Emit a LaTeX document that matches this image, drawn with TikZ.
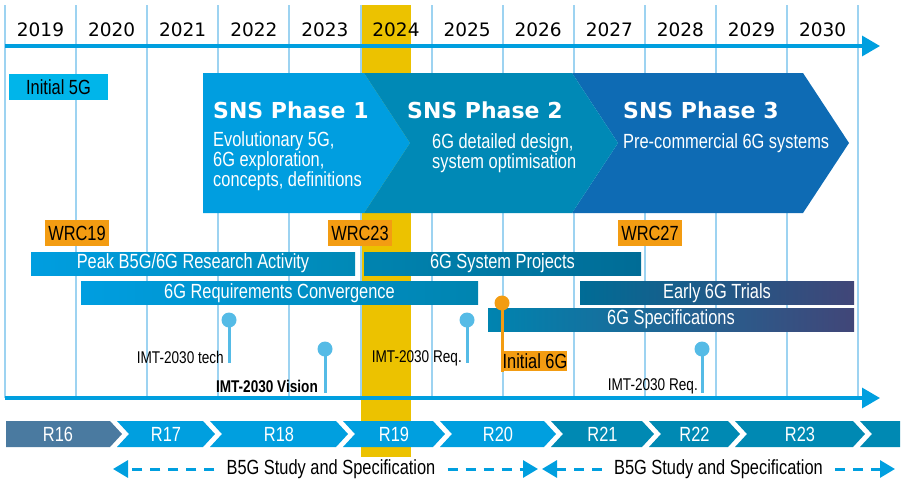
\documentclass[tikz,border=0pt]{standalone}
\usepackage{fontspec}
\setmainfont{DejaVu Sans}
\newfontfamily\condfont[FakeStretch=0.8]{Liberation Sans}
\usepackage{xcolor}
\usetikzlibrary{arrows.meta,calc,positioning}
\definecolor{axisblue}{RGB}{0,159,223}
\definecolor{gridblue}{RGB}{157,211,241}
\definecolor{hiyellow}{RGB}{236,194,0}
\definecolor{phaseA}{RGB}{0,158,224}
\definecolor{phaseB}{RGB}{0,137,182}
\definecolor{phaseC}{RGB}{14,107,180}
\definecolor{wrcorange}{RGB}{243,156,18}
\definecolor{cyanbox}{RGB}{0,181,234}
\definecolor{pinblue}{RGB}{85,187,230}
\definecolor{slate}{RGB}{74,122,160}
\definecolor{relblue}{RGB}{0,159,223}
\definecolor{relteal}{RGB}{0,137,179}
\definecolor{barmid}{RGB}{0,132,176}
\definecolor{bardark}{RGB}{0,108,150}
\definecolor{barpurple}{RGB}{65,70,120}

\tikzset{
  lbl/.style={font=\condfont\fontsize{20.5}{20}\selectfont, inner sep=0pt},
  smalllbl/.style={font=\condfont\fontsize{17}{17}\selectfont, inner sep=0pt},
  yearlbl/.style={font=\fontsize{18.5}{18}\selectfont, inner sep=0pt},
  headlbl/.style={font=\bfseries\fontsize{22}{22}\selectfont, text=white, inner sep=0pt},
  desclbl/.style={lbl, text=white, align=left},
  barbox/.style={lbl, text=white, minimum height=23pt},
  tagbox/.style={lbl, fill=wrcorange, minimum width=64pt, minimum height=26pt},
  pindot/.style={circle, fill=pinblue, minimum size=15pt, inner sep=0pt},
  stem/.style={line width=3pt, pinblue},
  gridline/.style={gridblue, line width=2pt},
  axisline/.style={axisblue, line width=3.3pt, -{Triangle[length=18pt,width=20pt]}},
  dasharrow/.style={axisblue, line width=3pt, dash pattern=on 10pt off 8pt,
    -{Triangle[length=15pt,width=17pt]}},
}

\begin{document}
\begin{tikzpicture}[x=1pt, y=-1pt]
\useasboundingbox (0,0) rectangle (901,482);
\def\gx{71.1}
\def\reltop{421}
\def\relbot{447}
\def\relmid{434}

\fill[hiyellow] (361,5) rectangle (411,457);
\foreach \i in {0,...,12}
  \draw[gridline] ({5+\gx*\i},5) -- ({5+\gx*\i},398);
\foreach \yr [count=\i from 0] in {2019,...,2030}
  \node[yearlbl] (y\yr) at ({40.5+\gx*\i},30) {\yr};
\draw[axisline] (5,46) -- (880,46);
\draw[axisline] (5,398) -- (880,398);

\node[lbl, fill=cyanbox, minimum width=99pt, minimum height=26pt] (init5g) at (58.5,87) {Initial 5G};

\fill[phaseC] (572,73) -- (803,73) -- (849,143) -- (803,213) -- (572,213) -- (618,143) -- cycle;
\fill[phaseB] (364,73) -- (572,73) -- (618,143) -- (572,213) -- (364,213) -- (410,143) -- cycle;
\fill[phaseA] (203,73) -- (364,73) -- (410,143) -- (364,213) -- (203,213) -- cycle;
\node[headlbl, anchor=base west] (ph1) at (213,118) {SNS Phase 1};
\node[headlbl, anchor=base west] (ph2) at (407,118) {SNS Phase 2};
\node[headlbl, anchor=base west] (ph3) at (623,118) {SNS Phase 3};
\node[desclbl, anchor=north west] (ph1txt) at (213,131)
  {Evolutionary 5G,\\6G exploration,\\concepts, definitions};
\node[desclbl, anchor=north west] (ph2txt) at (432,133)
  {6G detailed design,\\system optimisation};
\node[desclbl, anchor=north west] (ph3txt) at (623,133) {Pre-commercial 6G systems};

\node[tagbox] (wrc19) at (77,233) {WRC19};
\node[tagbox] (wrc23) at (360,233) {WRC23};
\node[tagbox] (wrc27) at (650,233) {WRC27};

\node[barbox, minimum width=324pt, left color=phaseA, right color=phaseB] (peak) at (193,263.5)
  {Peak B5G/6G Research Activity};
\node[barbox, minimum width=277pt, left color=barmid, right color=bardark] (sysproj) at (502.5,263.5)
  {6G System Projects};
\node[barbox, minimum width=397pt, left color=phaseA, right color=barmid] (reqconv) at (279.5,293)
  {6G Requirements Convergence};
\node[barbox, minimum width=274pt, left color=bardark, right color=barpurple] (trials) at (717,293)
  {Early 6G Trials};
\node[barbox, minimum width=366pt, left color=barmid, right color=barpurple] (spec) at (671,319.5)
  {6G Specifications};

\node[pindot] (pTech) at (229,320) {};
\coordinate (pTechEnd) at (229,363);
\draw[stem] (pTech.center) -- (pTechEnd);
\node[smalllbl, anchor=east] (lTech) at (224,357) {IMT-2030 tech};
\node[pindot] (pVision) at (325,349) {};
\coordinate (pVisionEnd) at (325,393);
\draw[stem] (pVision.center) -- (pVisionEnd);
\node[smalllbl, font=\condfont\bfseries\fontsize{17}{17}\selectfont, anchor=east] (lVision) at (318,386) {IMT-2030 Vision};
\node[pindot] (pReqA) at (467,320) {};
\coordinate (pReqAEnd) at (467,363);
\draw[stem] (pReqA.center) -- (pReqAEnd);
\node[smalllbl, anchor=east] (lReqA) at (462,358) {IMT-2030 Req.};
\node[pindot] (pReqB) at (702,349) {};
\coordinate (pReqBEnd) at (702,393);
\draw[stem] (pReqB.center) -- (pReqBEnd);
\node[smalllbl, anchor=east] (lReqB) at (698,386) {IMT-2030 Req.};

\node[pindot, fill=wrcorange] (p6g) at (502,303) {};
\coordinate (p6gEnd) at (502,372);
\node[lbl, fill=wrcorange, minimum width=64pt, minimum height=20pt] (init6g) at (535,361) {Initial 6G};
\draw[stem, wrcorange] (p6g.center) -- (p6gEnd);

\fill[slate] (6,\reltop) -- (110,\reltop) -- (122,\relmid) -- (110,\relbot) -- (6,\relbot) -- cycle;
\node[lbl, text=white] (r16) at (58,\relmid) {R16};
\foreach \xl/\xr/\rel/\col in {117/203/R17/relblue, 210/336/R18/relblue, 343/433/R19/relblue,
    440/544/R20/relblue, 551/642/R21/relteal, 649/728/R22/relteal, 735/853/R23/relteal} {
  \fill[\col] (\xl,\reltop) -- (\xr,\reltop) -- (\xr+12,\relmid) -- (\xr,\relbot)
    -- (\xl,\relbot) -- (\xl+12,\relmid) -- cycle;
  \node[lbl, text=white] (r\rel) at ({(\xl+\xr)/2+6},\relmid) {\rel};
}
\fill[relteal] (860,\reltop) -- (900,\reltop) -- (900,\relbot) -- (860,\relbot) -- (872,\relmid) -- cycle;

\node[lbl, inner xsep=12pt] (study1) at (331,469) {B5G Study and Specification};
\node[lbl, inner xsep=12pt] (study2) at (718.5,469) {B5G Study and Specification};
\coordinate (s1L) at (113,469);
\coordinate (s1R) at (538,469);
\coordinate (s2L) at (542,469);
\coordinate (s2R) at (895,469);
\draw[dasharrow] (study1.west) -- (s1L);
\draw[dasharrow] (study1.east) -- (s1R);
\draw[dasharrow] (study2.west) -- (s2L);
\draw[dasharrow] (study2.east) -- (s2R);
\end{tikzpicture}
\end{document}
